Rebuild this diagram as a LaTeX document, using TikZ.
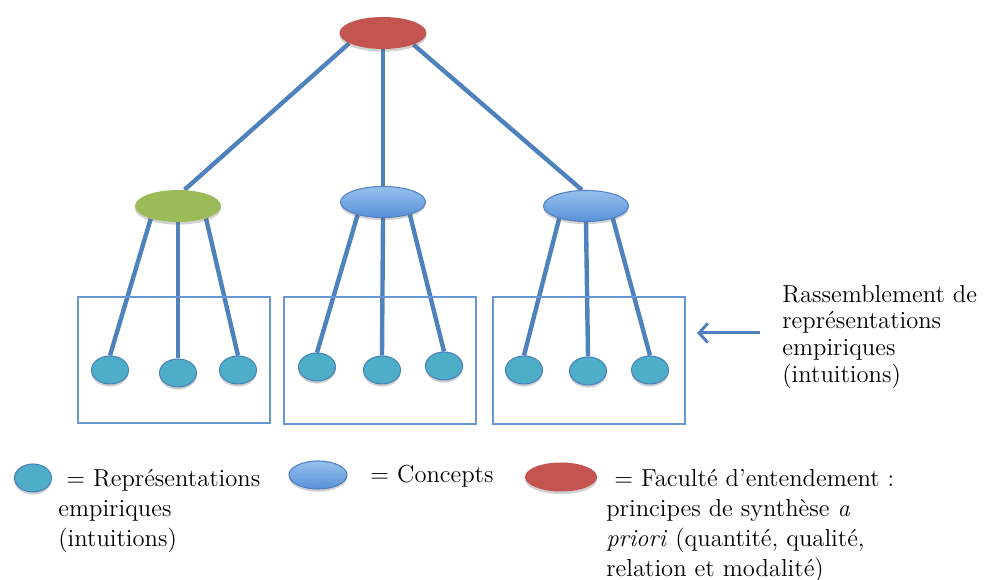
\documentclass[tikz,border=0pt]{standalone}
\usepackage{fontspec}
\usetikzlibrary{shapes.geometric,arrows.meta,shadows,backgrounds}
\definecolor{facred}{RGB}{196,84,80}
\definecolor{cptgreen}{RGB}{155,187,89}
\definecolor{cpttop}{RGB}{150,192,238}
\definecolor{cptbot}{RGB}{88,145,215}
\definecolor{cptedge}{RGB}{80,128,196}
\definecolor{repfill}{RGB}{78,174,200}
\definecolor{repedge}{RGB}{72,128,188}
\definecolor{linkblue}{RGB}{79,129,189}
\definecolor{frameblue}{RGB}{104,152,212}
\tikzset{
  blob/.style={ellipse, inner sep=0pt,
    drop shadow={shadow xshift=0pt, shadow yshift=-1.5pt, opacity=.3, fill=black!60}},
  faculty/.style={blob, fill=facred, minimum width=1.74cm, minimum height=0.64cm},
  greenconcept/.style={blob, fill=cptgreen, minimum width=1.72cm, minimum height=0.64cm},
  concept/.style={blob, draw=cptedge, line width=0.6pt, top color=cpttop, bottom color=cptbot,
    minimum width=1.7cm, minimum height=0.62cm},
  intuition/.style={blob, draw=repedge, line width=0.6pt, fill=repfill,
    minimum width=0.74cm, minimum height=0.56cm},
  link/.style={draw=linkblue, line width=2.5pt},
  frame/.style={draw=frameblue, line width=1pt},
  pointer/.style={draw=linkblue, line width=1.7pt, -{Straight Barb[length=5pt,width=11pt]}},
  caption/.style={align=left, anchor=north west, inner sep=0pt,
    font=\fontsize{14}{17}\selectfont},
}
\begin{document}
\begin{tikzpicture}[x=0.02cm, y=0.02cm]
  \useasboundingbox (0,0) rectangle (986,580);
  % tree
  \node[faculty] (fac) at (383,547) {};
  \node[greenconcept] (cpt1) at (178,374) {};
  \node[concept] (cpt2) at (383,378) {};
  \node[concept] (cpt3) at (586,374) {};
  \node[intuition] (rep11) at (110,210) {};
  \node[intuition] (rep12) at (178,207) {};
  \node[intuition] (rep13) at (238,210) {};
  \node[intuition] (rep21) at (317,213) {};
  \node[intuition] (rep22) at (382,210) {};
  \node[intuition] (rep23) at (444,214) {};
  \node[intuition] (rep31) at (524,210) {};
  \node[intuition] (rep32) at (588,209) {};
  \node[intuition] (rep33) at (650,210) {};
  \begin{scope}[on background layer]
    \draw[link] (fac.197) -- (cpt1.68);
    \draw[link] (fac.south) -- (cpt2.north);
    \draw[link] (fac.339) -- (cpt3.104);
    \draw[link] (cpt1.205) -- (rep11.north);
    \draw[link] (cpt1.south) -- (rep12.north);
    \draw[link] (cpt1.336) -- (rep13.north);
    \draw[link] (cpt2.207) -- (rep21.north);
    \draw[link] (cpt2.south) -- (rep22.north);
    \draw[link] (cpt2.335) -- (rep23.north);
    \draw[link] (cpt3.205) -- (rep31.north);
    \draw[link] (cpt3.south) -- (rep32.north);
    \draw[link] (cpt3.335) -- (rep33.north);
  \end{scope}
  \draw[frame] (78,157) rectangle (270,283);
  \draw[frame] (284,156) rectangle (476,283);
  \draw[frame] (493,156) rectangle (685,283);
  % note on the right
  \coordinate (arrtail) at (760,247);
  \coordinate (arrtip) at (697,247);
  \draw[pointer] (arrtail) -- (arrtip);
  \node[caption, font=\fontsize{14}{15.1}\selectfont] (note) at (782,295)
    {Rassemblement de\\représentations\\empiriques\\(intuitions)};
  % legend
  \node[intuition] (keyrep) at (33,102) {};
  \node[caption] (keyreptext) at (58,111) {\ = Représentations\\empiriques\\(intuitions)};
  \node[concept, minimum width=1.16cm, minimum height=0.56cm] (keycpt) at (318,105) {};
  \node[caption] (keycpttext) at (370,115) {= Concepts};
  \node[faculty, minimum width=1.44cm, minimum height=0.58cm] (keyfac) at (561,103) {};
  \node[caption] (keyfactext) at (606,111)
    {\ = Faculté d’entendement :\\principes de synthèse \textit{a}\\\textit{priori} (quantité, qualité,\\relation et modalité)};
\end{tikzpicture}
\end{document}
